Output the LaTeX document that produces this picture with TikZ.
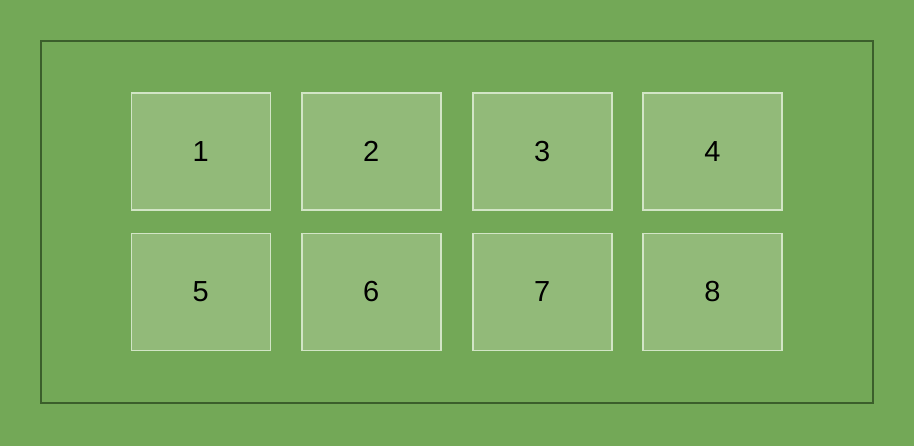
\documentclass[tikz,border=0pt]{standalone}
\usepackage{fontspec}
\setmainfont{Liberation Sans}
\definecolor{bggreen}{RGB}{115,168,87}
\definecolor{boxfill}{RGB}{146,186,121}
\definecolor{boxline}{RGB}{210,229,198}
\definecolor{outline}{RGB}{59,94,43}
\begin{document}
\begin{tikzpicture}[x=1pt,y=-1pt,
  cell/.style={draw=boxline,fill=boxfill,line width=1.6pt,minimum width=139pt,minimum height=117pt,inner sep=0pt,font=\fontsize{29}{29}\selectfont,text=black}]
\fill[bggreen] (0,0) rectangle (914,446);
\useasboundingbox (0,0) rectangle (914,446);
\node[draw=outline,line width=1.6pt,minimum width=832pt,minimum height=362pt,inner sep=0pt] (frame) at (456.7,221.8) {};
\node[cell] (n1) at (200.8,151.7) {1};
\node[cell] (n2) at (371.2,151.7) {2};
\node[cell] (n3) at (542.3,151.7) {3};
\node[cell] (n4) at (712.5,151.7) {4};
\node[cell] (n5) at (200.8,291.9) {5};
\node[cell] (n6) at (371.2,291.9) {6};
\node[cell] (n7) at (542.3,291.9) {7};
\node[cell] (n8) at (712.5,291.9) {8};
\end{tikzpicture}
\end{document}
